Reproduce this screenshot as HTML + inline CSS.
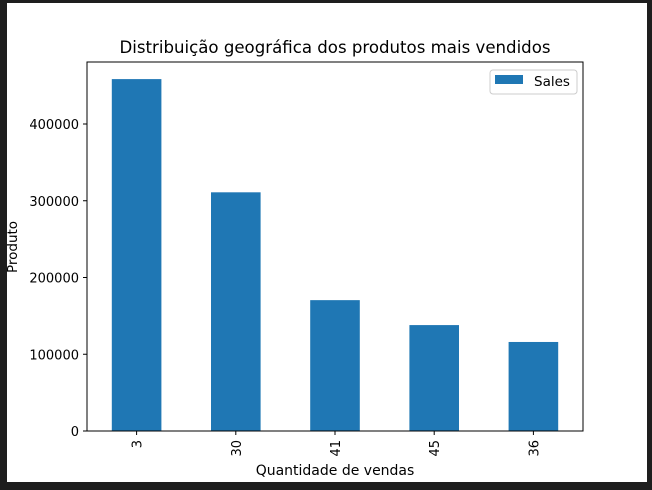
<!DOCTYPE html>
<html><head><meta charset="utf-8"><style>
body{margin:0;background:#1e1e1e;width:652px;height:486px;overflow:hidden;font-family:"DejaVu Sans","Liberation Sans",sans-serif}
</style></head><body>
<svg id="chart" width="652" height="486" xmlns="http://www.w3.org/2000/svg">
<rect x="7" y="3" width="640" height="479" fill="#fff"/>
<text x="335" y="53" font-size="16.6" text-anchor="middle" fill="#000">Distribuição geográfica dos produtos mais vendidos</text>
<g id="bars"></g>
<g id="axes"></g>
<rect x="87" y="62" width="496" height="369" fill="none" stroke="#000" stroke-width="1"/>
<text x="335" y="475" font-size="14" text-anchor="middle">Quantidade de vendas</text>
<text transform="translate(17,247) rotate(-90)" font-size="13.5" text-anchor="middle">Produto</text>
<g>
<rect x="490" y="70" width="87" height="24" rx="3" fill="#fff" stroke="#ccc"/>
<rect x="495" y="75" width="28" height="9" fill="#1f77b4"/>
<text x="534" y="86" font-size="13.5">Sales</text>
</g>
</svg>
<script>
const categories=["3","30","41","45","36"];
const sales=[458500,311000,170500,138000,116000];
const yTicks=[0,100000,200000,300000,400000];
const L=87,R=583,T=62,B=431;
const ns="http://www.w3.org/2000/svg";
const xs=i=>L+(R-L)/categories.length*(i+0.5);
const ys=v=>B-v*(B-124)/400000;
const bw=(R-L)/categories.length*0.5;
const bars=document.getElementById('bars'),axes=document.getElementById('axes');
function mk(t,a,p){const e=document.createElementNS(ns,t);for(const k in a)e.setAttribute(k,a[k]);p.appendChild(e);return e;}
sales.forEach((v,i)=>{
const r=mk('rect',{x:xs(i)-bw/2,y:ys(v),width:bw,height:B-ys(v),fill:'#1f77b4'},bars);


const tk=mk('line',{x1:xs(i),x2:xs(i),y1:B,y2:B+4,stroke:'#000'},axes);


const t=mk('text',{transform:`translate(${xs(i)+5},${B+9}) rotate(-90)`,'font-size':13,'text-anchor':'end'},axes);
t.textContent=categories[i];


});
yTicks.forEach(v=>{
const tk=mk('line',{x1:L-4,x2:L,y1:ys(v),y2:ys(v),stroke:'#000'},axes);


const t=mk('text',{x:L-8,y:ys(v)+5,'font-size':13,'text-anchor':'end'},axes);
t.textContent=v;


});
</script>
</body></html>
